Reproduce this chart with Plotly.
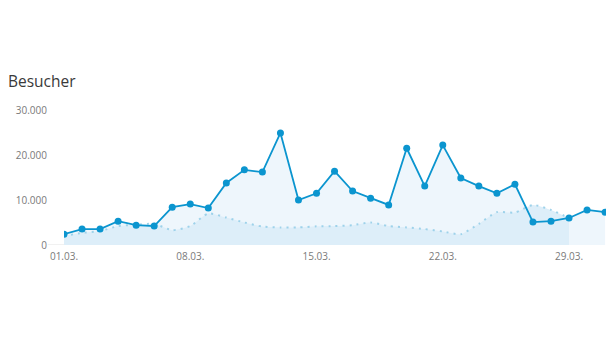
import plotly.graph_objects as go

days = list(range(1, 32))
visitors = [2400, 3550, 3550, 5300, 4400, 4200, 8400, 9100, 8200, 13800,
            16700, 16200, 24900, 10000, 11500, 16400, 12000, 10400, 8900, 21500,
            13100, 22200, 14900, 13100, 11500, 13500, 5100, 5300, 6000, 7800, 7300]
prev_days = list(range(1, 30))
prev_visitors = [2000, 2700, 3100, 4200, 4500, 4700, 3300, 4200, 7000, 6100,
                 5000, 4100, 3900, 3900, 4150, 4200, 4400, 5000, 4200, 3900,
                 3550, 3000, 2400, 4700, 7300, 7200, 8900, 7800, 6000]
tick_days = [1, 8, 15, 22, 29]
tick_labels = ["01.03.", "08.03.", "15.03.", "22.03.", "29.03."]
y_ticks = [0, 10000, 20000, 30000]

BLUE = "#0b95cf"
font_family = "Open Sans, Segoe UI, sans-serif"

fig = go.Figure()
fig.add_trace(go.Scatter(x=days, y=visitors, mode="lines", line=dict(width=0),
                         fill="tozeroy", fillcolor="#eef6fc", hoverinfo="skip",
                         showlegend=False))
fig.add_trace(go.Scatter(x=prev_days, y=prev_visitors, mode="lines",
                         line=dict(color="#9ed2ea", width=2, dash="2px,5px", shape="spline", smoothing=0.6),
                         fill="tozeroy", fillcolor="#ddeef9", showlegend=False))
fig.add_trace(go.Scatter(x=days, y=visitors, mode="lines+markers",
                         line=dict(color=BLUE, width=1.8),
                         marker=dict(color=BLUE, size=7), showlegend=False))

fig.update_layout(
    width=608, height=342,
    margin=dict(l=64, r=2, t=110, b=97),
    paper_bgcolor="white", plot_bgcolor="white",
    separators=",.",
    font=dict(family=font_family, size=10, color="#7a7a7a"),
    title=dict(text="Besucher", x=8/608, xref="container", xanchor="left",
               y=1 - 82/342, yref="container", yanchor="middle",
               font=dict(family=font_family, size=15.5, color="#3a3a3a")),
    xaxis=dict(range=[1, 31.05], tickvals=tick_days, ticktext=tick_labels,
               showgrid=False, zeroline=False, showline=False, ticks="",
               ticklabelstandoff=4,
               tickfont=dict(size=10, color="#7a7a7a")),
    yaxis=dict(range=[0, 30000], tickvals=y_ticks, tickformat=",d",
               showgrid=False, zeroline=False, showline=False, ticks="",
               ticklabelstandoff=16,
               tickfont=dict(size=10, color="#7a7a7a")),
    shapes=[dict(type="line", xref="paper", yref="y", x0=-0.03, x1=0, y0=0, y1=0,
                 line=dict(color="#e3e3e3", width=1))],
)

fig.write_html("out.html")
